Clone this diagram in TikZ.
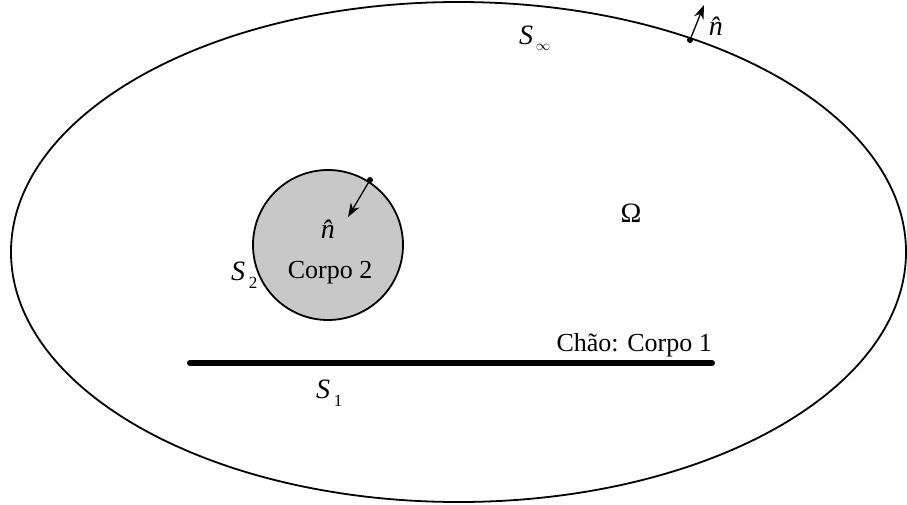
\documentclass[tikz,border=0pt]{standalone}
\usepackage{fontspec}
\setmainfont{Liberation Serif}
\usetikzlibrary{arrows.meta}
\tikzset{
  lbl/.style={inner sep=0pt, font=\fontsize{26}{30}\selectfont},
  sub/.style={inner sep=0pt, font=\fontsize{17}{20}\selectfont},
  nvec/.style={-{Stealth[length=14pt,width=10pt]}, line width=1.3pt},
  dotm/.style={circle, fill=black, inner sep=0pt, minimum size=6pt},
}
\begin{document}
\begin{tikzpicture}[x=1pt,y=-1pt]
\useasboundingbox (0,0) rectangle (907,504);
\draw[line width=1.8pt] (458.5,252) ellipse [x radius=447.5, y radius=250];
\node[draw, line width=1.8pt, fill={rgb,255:red,200;green,200;blue,200}, circle, minimum size=150pt, inner sep=0pt] (c2) at (328,245) {};
\draw[line width=6pt, line cap=round] (190,363) coordinate (b1) -- (712,363) coordinate (b2);
% top normal
\node[dotm] (p1) at (690,40) {};
\coordinate (t1) at (704,5);
\draw[nvec] (p1) -- (t1);
\node[lbl, font=\fontsize{28}{32}\selectfont] (n1) at (721,26) {\textit{n̂}};
% circle normal
\node[dotm] (p2) at (370,180) {};
\coordinate (t2) at (348,217);
\draw[nvec] (p2) -- (t2);
\node[lbl, font=\fontsize{28}{32}\selectfont] (n2) at (333,229) {\textit{n̂}};
\node[lbl] (cp2) at (330,273) {Corpo 2};
% labels
\node[lbl, font=\fontsize{28}{32}\selectfont] (sinf) at (526,35) {\textit{S}};
\node[sub, font=\fontsize{15}{18}\selectfont] (sinfs) at (543,47) {$\infty$};
\node[lbl, font=\fontsize{28}{32}\selectfont] (s2) at (238,271) {\textit{S}};
\node[sub] (s2s) at (253,283) {2};
\node[lbl, font=\fontsize{28}{32}\selectfont] (s1) at (323,389) {\textit{S}};
\node[sub] (s1s) at (338,401) {1};
\node[lbl, font=\fontsize{28}{32}\selectfont] (om) at (631,213) {Ω};
\node[lbl, anchor=east] (chao) at (712,345) {Chão: Corpo 1};
\end{tikzpicture}
\end{document}
